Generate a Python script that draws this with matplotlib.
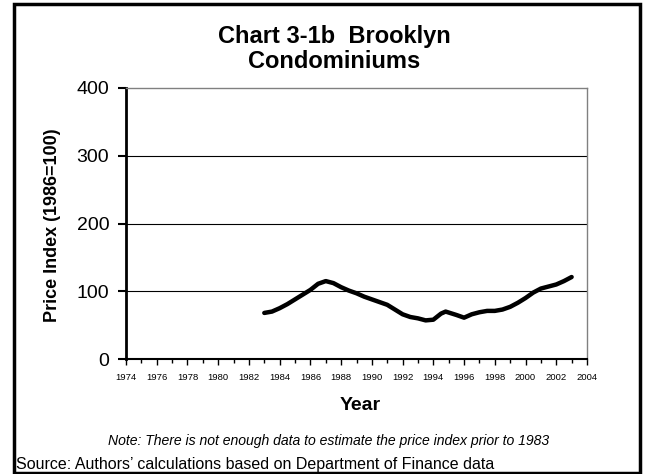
import matplotlib
matplotlib.use("Agg")
import matplotlib.pyplot as plt
from matplotlib.patches import Rectangle
from matplotlib.ticker import MultipleLocator

plt.rcParams['font.family'] = ['Liberation Sans', 'DejaVu Sans']

#price index (half year steps)
years = [1983.0, 1983.5, 1984.0, 1984.5, 1985.0, 1985.5, 1986.0, 1986.5, 1987.0, 1987.5,
         1988.0, 1988.5, 1989.0, 1989.5, 1990.0, 1990.5, 1991.0, 1991.5, 1992.0, 1992.5,
         1993.0, 1993.5, 1994.0, 1994.5, 1994.8, 1995.5, 1996.0, 1996.5, 1997.0, 1997.5,
         1998.0, 1998.5, 1999.0, 1999.5, 2000.0, 2000.5, 2001.0, 2001.5, 2002.0, 2002.5,
         2003.0]
index = [68, 70, 75, 81, 88, 95, 102, 111, 115, 112,
         106, 101, 97, 92, 88, 84, 80, 73, 66, 62,
         60, 57, 58, 67, 70, 65, 61, 66, 69, 71,
         71, 73, 77, 83, 90, 98, 104, 107, 110, 115,
         121]

xticks = list(range(1974, 2005, 2))
yticks = [0, 100, 200, 300, 400]

W, H = 651, 474
fig = plt.figure(figsize=(W / 100, H / 100), dpi=100)
ax = fig.add_axes([126 / W, 1 - 359 / H, (587 - 126) / W, (359 - 88) / H])

#outer frame of the chart
fig.patches.append(Rectangle((14 / W, 1 - 473 / H), 626 / W, 469 / H, transform=fig.transFigure,
                             fill=False, edgecolor="black", linewidth=2.5))

ax.plot(years, index, color="black", linewidth=3.2, solid_capstyle="round")

ax.set_xlim(1974, 2004)
ax.set_ylim(0, 400)
ax.set_xticks(xticks)
ax.set_xticklabels([str(x) for x in xticks], fontsize=6.8)
ax.xaxis.set_minor_locator(MultipleLocator(1))
ax.set_yticks(yticks)
ax.set_yticklabels([str(y) for y in yticks], fontsize=14)
ax.tick_params(axis="x", which="major", length=4, width=1, pad=6)
ax.tick_params(axis="x", which="minor", length=3, width=1)
ax.tick_params(axis="y", length=6, width=1.5, pad=6)

#grid lines
for y in yticks[1:-1]:
    ax.axhline(y, color="black", linewidth=0.8, zorder=0)

ax.spines["left"].set_linewidth(2)
ax.spines["bottom"].set_linewidth(1.5)
ax.spines["top"].set_color("gray")
ax.spines["right"].set_color("gray")
ax.spines["top"].set_linewidth(1)
ax.spines["right"].set_linewidth(1)

#labels and titles
fig.text(53 / W, 1 - 225 / H, "Price Index (1986=100)", rotation=90, ha="center", va="center",
         fontsize=13, fontweight="bold")
fig.text(360 / W, 1 - 405 / H, "Year", ha="center", va="center", fontsize=14, fontweight="bold")
fig.text(334 / W, 1 - 49 / H, "Chart 3-1b  Brooklyn\nCondominiums", ha="center", va="center",
         fontsize=17, fontweight="bold", linespacing=1.15)
fig.text(329 / W, 1 - 441 / H, "Note: There is not enough data to estimate the price index prior to 1983",
         ha="center", va="center", fontsize=10.1, style="italic")
fig.text(16 / W, 1 - 465 / H, "Source: Authors\u2019 calculations based on Department of Finance data",
         ha="left", va="center", fontsize=11.5)

fig.savefig("out.png", dpi=100)
